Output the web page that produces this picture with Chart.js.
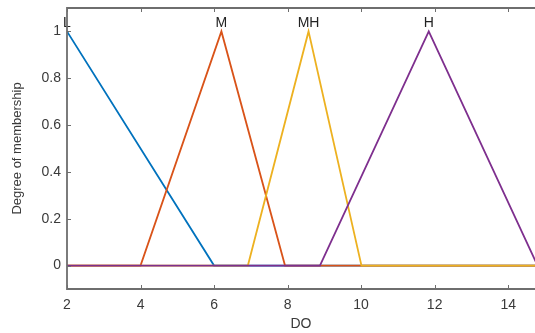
<!DOCTYPE html>
<html><head><meta charset="utf-8">
<script src="https://cdn.jsdelivr.net/npm/chart.js@4/dist/chart.umd.min.js"></script>
<style>html,body{margin:0;padding:0;background:#fff;overflow:hidden}</style>
</head><body>
<div style="width:535px;height:333px"><canvas id="c" width="535" height="333"></canvas></div>
<script>
// Axis ranges and tick labels
const xRange = [2, 14.73];
const yRange = [-0.1, 1.1];
const xTicks = [2, 4, 6, 8, 10, 12, 14];
const yTicks = [0, 0.2, 0.4, 0.6, 0.8, 1];

// Membership functions (breakpoints)
const mfNames = ['L', 'M', 'MH', 'H'];
const mfPeaks = [2, 6.2, 8.57, 11.84];
const L_x = [2, 6, 15];            const L_y = [1, 0, 0];
const M_x = [2, 4, 6.2, 7.93, 15]; const M_y = [0, 0, 1, 0, 0];
const MH_x = [2, 6.92, 8.57, 10.01, 15]; const MH_y = [0, 0, 1, 0, 0];
const H_x = [2, 8.88, 11.84, 14.8, 15];  const H_y = [0, 0, 1, 0, 0];
const mfColors = ['#0072BD', '#D95319', '#EDB120', '#7E2F8E'];

const pts = (xs, ys) => xs.map((x, i) => ({x: x, y: ys[i]}));
const series = [pts(L_x, L_y), pts(M_x, M_y), pts(MH_x, MH_y), pts(H_x, H_y)];

const AXIS_COLOR = '#6e6e6e';
const TEXT_COLOR = '#3a3a3a';
const FONT = '"Liberation Sans", Arial, sans-serif';

const matlabAxes = {
  id: 'matlabAxes',
  afterDatasetsDraw(chart) {
    const {ctx, chartArea: a, scales: {x, y}} = chart;
    ctx.save();
    // labels above peaks
    ctx.fillStyle = '#222';
    ctx.font = '14px ' + FONT;
    ctx.textAlign = 'center';
    ctx.textBaseline = 'alphabetic';
    mfNames.forEach((n, i) => {
      ctx.fillText(n, x.getPixelForValue(mfPeaks[i]), y.getPixelForValue(1.02));
    });
    // axis box (left, top, bottom)
    ctx.strokeStyle = AXIS_COLOR;
    ctx.lineWidth = 1.8;
    ctx.beginPath();
    ctx.moveTo(a.right + 2, a.top); ctx.lineTo(a.left, a.top);
    ctx.lineTo(a.left, a.bottom); ctx.lineTo(a.right + 2, a.bottom);
    ctx.stroke();
    // inward ticks
    ctx.lineWidth = 1;
    const tl = 4;
    ctx.beginPath();
    xTicks.forEach(v => {
      const px = Math.round(x.getPixelForValue(v)) + 0.5;
      ctx.moveTo(px, a.bottom); ctx.lineTo(px, a.bottom - tl);
      ctx.moveTo(px, a.top); ctx.lineTo(px, a.top + tl);
    });
    yTicks.forEach(v => {
      const py = Math.round(y.getPixelForValue(v)) + 0.5;
      ctx.moveTo(a.left, py); ctx.lineTo(a.left + tl, py);
    });
    ctx.stroke();
    ctx.restore();
  }
};

const noPad = s => { s.paddingTop = 0; s.paddingBottom = 0; s.paddingLeft = 0; s.paddingRight = 0; };

new Chart(document.getElementById('c'), {
  type: 'line',
  data: {
    datasets: series.map((d, i) => ({
      label: mfNames[i],
      data: d,
      borderColor: mfColors[i],
      backgroundColor: mfColors[i],
      borderWidth: 1.8,
      pointRadius: 0,
      tension: 0,
      fill: false,
      order: mfNames.length - i
    }))
  },
  options: {
    responsive: false,
    devicePixelRatio: 1,
    animation: false,
    layout: {padding: {top: 8, right: 0, left: 0, bottom: 0}},
    plugins: {legend: {display: false}, tooltip: {enabled: false}},
    scales: {
      x: {
        type: 'linear', min: xRange[0], max: xRange[1],
        afterBuildTicks: s => { s.ticks = xTicks.map(v => ({value: v})); },
        afterFit: s => { s.height = 44; noPad(s); },
        grid: {display: false, drawTicks: false},
        border: {display: false},
        ticks: {color: TEXT_COLOR, font: {family: FONT, size: 14}, padding: 8, maxRotation: 0, autoSkip: false,
                callback: v => String(v)},
        title: {display: true, text: 'DO', color: TEXT_COLOR, font: {family: FONT, size: 14}, padding: {top: 0, bottom: 0}}
      },
      y: {
        type: 'linear', min: yRange[0], max: yRange[1],
        afterBuildTicks: s => { s.ticks = yTicks.map(v => ({value: v})); },
        afterFit: s => { s.width = 67; noPad(s); },
        grid: {display: false, drawTicks: false},
        border: {display: false},
        ticks: {color: TEXT_COLOR, font: {family: FONT, size: 14}, padding: 6, autoSkip: false,
                callback: v => String(+(+v).toFixed(1))},
        title: {display: true, text: 'Degree of membership', color: TEXT_COLOR, font: {family: FONT, size: 13}, padding: {top: 10, bottom: 0}}
      }
    }
  },
  plugins: [matlabAxes]
});
</script>
</body></html>
